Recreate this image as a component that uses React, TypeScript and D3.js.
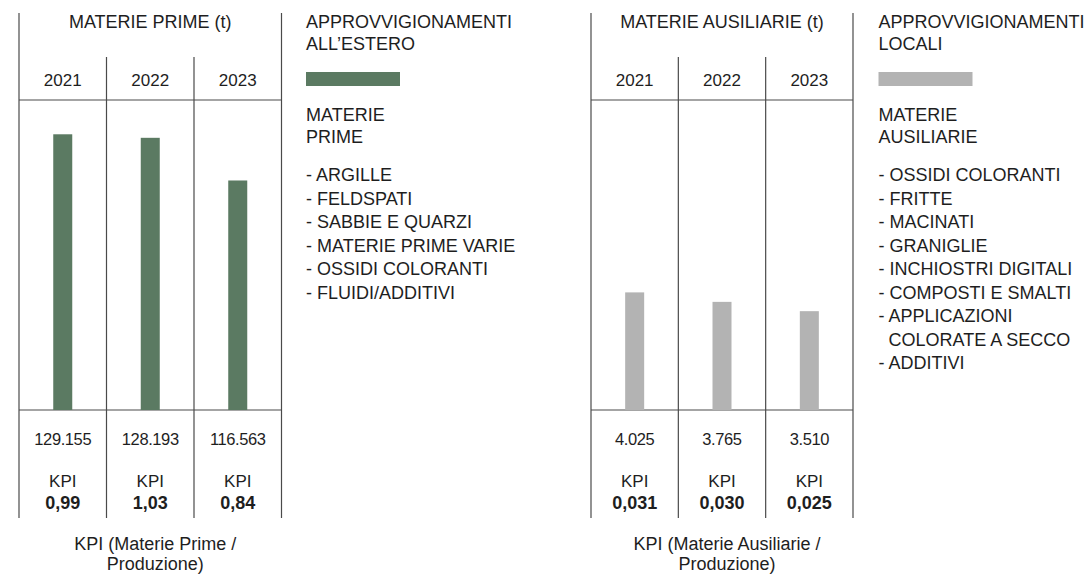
import React from "react";
import * as d3 from "d3";

const years = ["2021", "2022", "2023"];
const primeValues = [129155, 128193, 116563];
const primeKpi = [0.99, 1.03, 0.84];
const ausiliarieValues = [4025, 3765, 3510];
const ausiliarieKpi = [0.031, 0.03, 0.025];

const primeLegendTitle = ["APPROVVIGIONAMENTI", "ALL’ESTERO"];
const primeLegendName = ["MATERIE", "PRIME"];
const primeItems = [
  "- ARGILLE",
  "- FELDSPATI",
  "- SABBIE E QUARZI",
  "- MATERIE PRIME VARIE",
  "- OSSIDI COLORANTI",
  "- FLUIDI/ADDITIVI",
];
const ausLegendTitle = ["APPROVVIGIONAMENTI", "LOCALI"];
const ausLegendName = ["MATERIE", "AUSILIARIE"];
const ausItems = [
  "- OSSIDI COLORANTI",
  "- FRITTE",
  "- MACINATI",
  "- GRANIGLIE",
  "- INCHIOSTRI DIGITALI",
  "- COMPOSTI E SMALTI",
  "- APPLICAZIONI",
  "  COLORATE A SECCO",
  "- ADDITIVI",
];

const it = d3.formatLocale({
  decimal: ",",
  thousands: ".",
  grouping: [3],
  currency: ["€", ""],
});

const FONT = "'Liberation Sans', Arial, sans-serif";
const TEXT = "#1e1e1e";
const LINE = "#4a4a4a";

type PanelProps = {
  x0: number;
  x1: number;
  title: string;
  values: number[];
  kpis: number[];
  kpiFmt: string;
  domain: [number, number];
  color: string;
  footer: string[];
};

function Panel({ x0, x1, title, values, kpis, kpiFmt, domain, color, footer }: PanelProps) {
  const x = d3.scaleBand<string>().domain(years).range([x0, x1]).padding(0);
  const y = d3.scaleLinear().domain(domain).range([410, 100]);
  const barW = 19;
  const fmtV = it.format(",d");
  const fmtK = it.format(kpiFmt);
  const cx = (x0 + x1) / 2;
  const edges = [x0, ...years.slice(1).map((d) => x(d)!), x1];
  return (
    <g fontFamily={FONT} fill={TEXT}>
      {edges.map((e, i) => (
        <line
          key={i}
          x1={e}
          x2={e}
          y1={i === 0 || i === edges.length - 1 ? 13 : 57}
          y2={518}
          stroke={LINE}
          strokeWidth={1.2}
        />
      ))}
      <line x1={x0} x2={x1} y1={100} y2={100} stroke={LINE} strokeWidth={1.2} />
      <line x1={x0} x2={x1} y1={410} y2={410} stroke={LINE} strokeWidth={1.2} />
      <text x={cx} y={27.5} textAnchor="middle" fontSize={18}>
        {title}
      </text>
      {years.map((yr, i) => {
        const c = x(yr)! + x.bandwidth() / 2;
        return (
          <g key={yr}>
            <text x={c} y={85.5} textAnchor="middle" fontSize={17}>
              {yr}
            </text>
            <rect
              x={c - barW / 2}
              y={y(values[i])}
              width={barW}
              height={410 - y(values[i])}
              fill={color}
            />
            <text x={c} y={445} textAnchor="middle" fontSize={16.5} letterSpacing={-0.4}>
              {fmtV(values[i])}
            </text>
            <text x={c} y={487} textAnchor="middle" fontSize={17}>
              KPI
            </text>
            <text x={c} y={508.5} textAnchor="middle" fontSize={18} fontWeight="bold">
              {fmtK(kpis[i])}
            </text>
          </g>
        );
      })}
      {footer.map((t, i) => (
        <text key={i} x={cx + 5} y={550 + i * 19.5} textAnchor="middle" fontSize={18}>
          {t}
        </text>
      ))}
    </g>
  );
}

type LegendProps = {
  x: number;
  title: string[];
  name: string[];
  items: string[];
  color: string;
};

function Legend({ x, title, name, items, color }: LegendProps) {
  return (
    <g fontFamily={FONT} fill={TEXT} fontSize={18}>
      {title.map((t, i) => (
        <text key={"t" + i} x={x} y={28} textLength={i === 0 ? 206 : undefined}>
          {t}
        </text>
      )).map((el, i) => React.cloneElement(el, { y: 28 + i * 22 }))}
      <rect x={x} y={72} width={94} height={14} fill={color} />
      {name.map((t, i) => (
        <text key={"n" + i} x={x} y={120.5 + i * 22.5}>
          {t}
        </text>
      ))}
      {items.map((t, i) => (
        <text key={"i" + i} x={x} y={181 + i * 23.5} style={{ whiteSpace: "pre" }}>
          {t}
        </text>
      ))}
    </g>
  );
}

export default function App() {
  return (
    <div style={{ position: "absolute", left: 0, top: 0 }}>
      <svg width={1090} height={577} style={{ display: "block", background: "#fff" }}>
        <Panel
          x0={19}
          x1={281.5}
          title="MATERIE PRIME (t)"
          values={primeValues}
          kpis={primeKpi}
          kpiFmt=".2f"
          domain={[54000, 138500]}
          color="#5b7a62"
          footer={["KPI (Materie Prime /", "Produzione)"]}
        />
        <Legend x={306} title={primeLegendTitle} name={primeLegendName} items={primeItems} color="#5b7a62" />
        <Panel
          x0={591}
          x1={853}
          title="MATERIE AUSILIARIE (t)"
          values={ausiliarieValues}
          kpis={ausiliarieKpi}
          kpiFmt=".3f"
          domain={[800, 9300]}
          color="#b3b3b3"
          footer={["KPI (Materie Ausiliarie /", "Produzione)"]}
        />
        <Legend x={878.5} title={ausLegendTitle} name={ausLegendName} items={ausItems} color="#b3b3b3" />
      </svg>
    </div>
  );
}
